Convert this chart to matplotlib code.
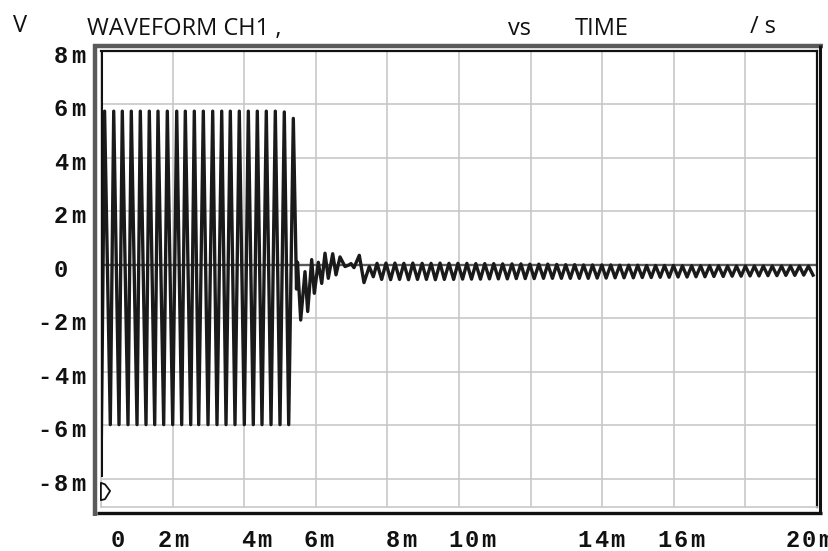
import numpy as np
import matplotlib
matplotlib.use("Agg")
import matplotlib.pyplot as plt
from matplotlib.lines import Line2D
from matplotlib.path import Path
import matplotlib.transforms as mtransforms

# ---------------- data (time in ms, voltage in mV) ----------------
start_t = [0.0]
start_v = [-7.85]

burst_peak_t = [0.10, 0.355, 0.595, 0.846, 1.098, 1.349, 1.592, 1.852, 2.115, 2.355, 2.606,
                2.858, 3.120, 3.372, 3.612, 3.863, 4.115, 4.366, 4.617, 4.869, 5.120, 5.372]
burst_peak_v = [5.75, 5.75, 5.75, 5.75, 5.75, 5.75, 5.75, 5.75, 5.75, 5.75, 5.75,
                5.75, 5.75, 5.75, 5.75, 5.75, 5.75, 5.75, 5.75, 5.75, 5.72, 5.48]
burst_trough_t = [0.26, 0.503, 0.754, 1.006, 1.257, 1.500, 1.751, 2.003, 2.254, 2.506,
                  2.729, 2.989, 3.240, 3.492, 3.743, 4.003, 4.254, 4.497, 4.749, 5.000, 5.243]
burst_trough_v = [-5.97, -5.97, -5.97, -5.97, -5.97, -5.97, -5.97, -5.97, -5.97, -5.97,
                  -5.97, -5.97, -5.97, -5.97, -5.97, -5.97, -5.97, -5.97, -5.97, -5.97, -5.97]

ring_t = [5.461, 5.489, 5.578, 5.698, 5.774, 5.885, 5.958, 6.070, 6.165, 6.257, 6.349,
          6.472, 6.564, 6.676, 6.816, 6.927, 6.983, 7.067, 7.215, 7.346, 7.494, 7.606]
ring_v = [-0.90, 0.10, -2.06, -0.25, -1.74, 0.20, -1.06, 0.10, -0.69, 0.44, -0.50,
          0.42, -0.37, 0.30, -0.06, 0.00, 0.05, -0.10, 0.36, -0.66, -0.06, -0.44]

ss_peak_t = [7.71, 7.96, 8.21, 8.46, 8.71, 8.97, 9.22, 9.47, 9.72, 9.97,
             10.22, 10.47, 10.72, 10.97, 11.22, 11.48, 11.73, 11.98, 12.23, 12.48,
             12.73, 12.98, 13.23, 13.48, 13.73, 13.99, 14.24, 14.49, 14.74, 14.99,
             15.24, 15.49, 15.74, 15.99, 16.24, 16.50, 16.75, 17.00, 17.25, 17.50,
             17.75, 18.00, 18.25, 18.50, 18.75, 19.01, 19.26, 19.51, 19.76]
ss_peak_v = [0.06, 0.07, 0.07, 0.06, 0.07, 0.06, 0.06, 0.07, 0.06, 0.06,
             0.06, 0.05, 0.05, 0.05, 0.04, 0.04, 0.04, 0.03, 0.03, 0.03,
             0.02, 0.01, 0.01, 0.00, 0.00, 0.00, 0.00, -0.01, -0.01, -0.01,
             -0.02, -0.02, -0.02, -0.02, -0.03, -0.03, -0.03, -0.03, -0.03, -0.04,
             -0.04, -0.04, -0.04, -0.04, -0.04, -0.04, -0.04, -0.04, -0.04]
ss_trough_t = [7.84, 8.09, 8.34, 8.59, 8.84, 9.09, 9.34, 9.59, 9.85, 10.10,
               10.35, 10.60, 10.85, 11.10, 11.35, 11.60, 11.85, 12.10, 12.36, 12.61,
               12.86, 13.11, 13.36, 13.61, 13.86, 14.11, 14.36, 14.61, 14.87, 15.12,
               15.37, 15.62, 15.87, 16.12, 16.37, 16.62, 16.87, 17.12, 17.38, 17.63,
               17.88, 18.13, 18.38, 18.63, 18.88, 19.13, 19.38, 19.63, 19.89]
ss_trough_v = [-0.54, -0.55, -0.54, -0.55, -0.54, -0.54, -0.55, -0.54, -0.54, -0.53,
               -0.53, -0.53, -0.52, -0.52, -0.52, -0.51, -0.51, -0.51, -0.50, -0.50,
               -0.50, -0.50, -0.50, -0.50, -0.49, -0.49, -0.48, -0.48, -0.48, -0.47,
               -0.47, -0.46, -0.46, -0.45, -0.45, -0.44, -0.44, -0.43, -0.43, -0.42,
               -0.42, -0.41, -0.41, -0.40, -0.40, -0.39, -0.39, -0.38, -0.38]

marker_t = [0.12]
marker_v = [-8.45]

grid_x = [0, 2, 4, 6, 8, 10, 12, 14, 16, 18, 20]
grid_y = [-8, -6, -4, -2, 0, 2, 4, 6, 8]

xtick_pos = [0.47, 1.79, 4.11, 5.84, 8.16, 10.36, 13.97, 16.20, 19.78]
xtick_labels = [" 0 ", " 2m", " 4m", " 6m", " 8m", "10m", "14m", "16m", "20m"]
ytick_pos = [8, 6, 4, 2, 0, -2, -4, -6, -8]
ytick_labels = [" 8m", " 6m", " 4m", " 2m", " 0 ", "-2m", "-4m", "-6m", "-8m"]

# ---------------- assemble trace ----------------
t_all = np.array(start_t + burst_peak_t + burst_trough_t + ring_t + ss_peak_t + ss_trough_t)
v_all = np.array(start_v + burst_peak_v + burst_trough_v + ring_v + ss_peak_v + ss_trough_v)
order = np.argsort(t_all)
t_all, v_all = t_all[order], v_all[order]

W, H = 829, 551
DPI = 100
fig = plt.figure(figsize=(W / DPI, H / DPI), dpi=DPI)
fig.patch.set_facecolor("white")

L, R, T, B = 101, 817, 51, 507
ax = fig.add_axes([L / W, 1 - B / H, (R - L) / W, (B - T) / H])
ax.set_xlim(0, 20)
ax.set_ylim(-9.05, 8)

for gx in grid_x:
    ax.axvline(gx, color="#c8c8c8", lw=1.2, zorder=1)
for gy in grid_y:
    ax.axhline(gy, color="#c8c8c8", lw=1.2, zorder=1)
ax.axhline(0, color="#5a5a5a", lw=1.7, zorder=2)

ax.plot(t_all, v_all, color="#1a1a1a", lw=2.4, solid_joinstyle="round", zorder=3)

# left black trace edge at t=0
frac = (start_v[0] - (-9.05)) / (8 - (-9.05))
ax.axvline(0, ymin=frac, ymax=1, color="#111111", lw=2.2, zorder=4)

mk = Path([(-4.5, 8.5), (-0.5, 7.0), (4.5, 0.5), (-0.5, -7.5), (-4.5, -8.5), (-4.5, 8.5)],
          [Path.MOVETO, Path.LINETO, Path.LINETO, Path.LINETO, Path.LINETO, Path.CLOSEPOLY])
ax.plot(marker_t, marker_v, marker=mk, markersize=12.5, markerfacecolor="white",
        markeredgecolor="#111111", markeredgewidth=1.3, linestyle="none", zorder=5,
        clip_on=False)

for s in ["top", "right"]:
    ax.spines[s].set_color("#111111")
    ax.spines[s].set_linewidth(1.6)
for s in ["bottom", "left"]:
    ax.spines[s].set_color("#c8c8c8")
    ax.spines[s].set_linewidth(1.2)

# ticks: positions via the axes, labels drawn with wide letter spacing
ax.set_xticks(xtick_pos)
ax.set_xticklabels([])
ax.set_yticks(ytick_pos)
ax.set_yticklabels([])
ax.tick_params(axis="both", length=0)

mono = {"family": "Liberation Mono", "weight": "bold", "size": 17, "color": "#111111"}
ADV_X = 16.5
for pos, s in zip(xtick_pos, xtick_labels):
    n = len(s)
    for i, ch in enumerate(s):
        if ch == " ":
            continue
        dx = (i - (n - 1) / 2) * ADV_X / DPI
        tr = ax.get_xaxis_transform() + mtransforms.ScaledTranslation(
            dx, -(547 - B) / DPI, fig.dpi_scale_trans)
        ax.text(pos, 0, ch, transform=tr, ha="center", va="baseline", clip_on=False, **mono)

ADV_Y = 17
for pos, s in zip(ytick_pos, ytick_labels):
    n = len(s)
    for i, ch in enumerate(s):
        if ch == " ":
            continue
        cx = 78 - (n - 1 - i) * ADV_Y
        tr = ax.get_yaxis_transform() + mtransforms.ScaledTranslation(
            (cx - L) / DPI, -12 / DPI, fig.dpi_scale_trans)
        ax.text(0, pos, ch, transform=tr, ha="center", va="baseline", clip_on=False, **mono)

# outer bevel frame
def P(x, y):
    return x / W, 1 - y / H

def fl(x0, y0, x1, y1, c, lw):
    (a, b), (cc, d) = P(x0, y0), P(x1, y1)
    fig.add_artist(Line2D([a, cc], [b, d], color=c, lw=lw, transform=fig.transFigure,
                          solid_capstyle="butt"))

fl(93, 46.5, 823, 46.5, "#5a5a5a", 3.2)
fl(95, 44, 95, 516, "#5a5a5a", 3.2)
fl(97, 512.5, 822, 512.5, "#111111", 2.4)
fl(820, 45, 820, 514, "#111111", 2.2)

# header texts
hfont = {"family": "Open Sans", "size": 17, "color": "#111111"}
fig.text(13 / W, 1 - 32 / H, "V", ha="left", va="baseline", **hfont)
fig.text(87 / W, 1 - 35 / H, "WAVEFORM CH1 ,", ha="left", va="baseline", **hfont)
fig.text(508 / W, 1 - 35 / H, "vs", ha="left", va="baseline", **hfont)
fig.text(575 / W, 1 - 35 / H, "TIME", ha="left", va="baseline", **hfont)
fig.text(750 / W, 1 - 33 / H, "/ s", ha="left", va="baseline", **hfont)

fig.savefig("out.png", dpi=DPI, facecolor="white")
